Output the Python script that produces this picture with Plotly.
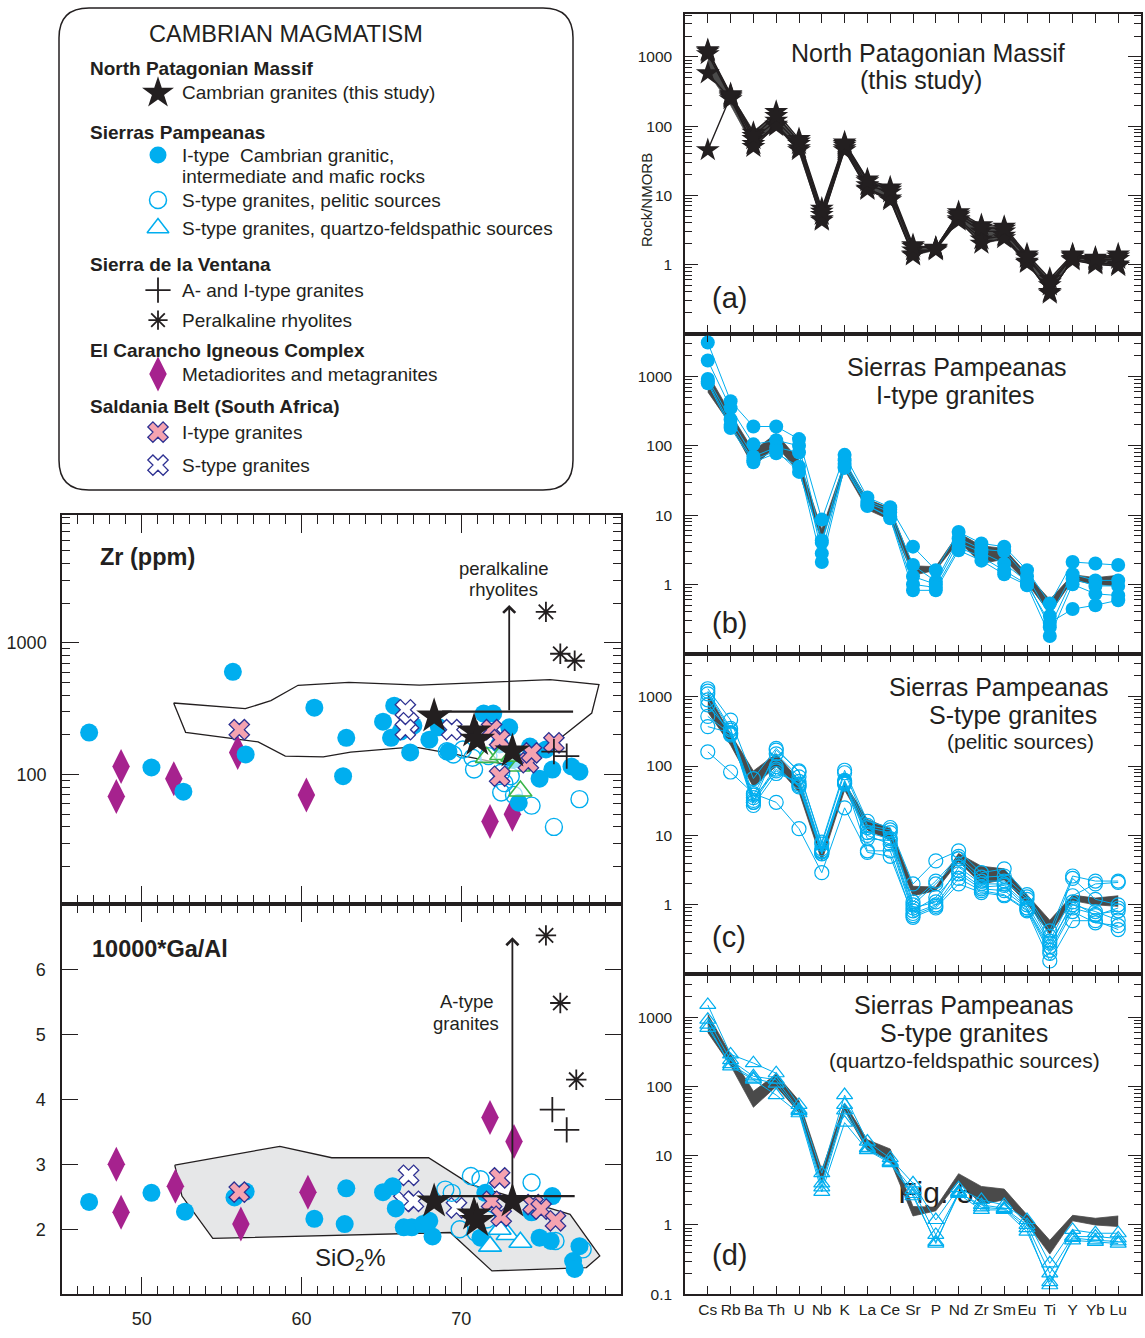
import numpy as np
import plotly.graph_objects as go

W, H = 1145, 1338
# the captured page comes out slightly squeezed vertically; layout pixel rows are stretched to match
VS = 1294.0 / 1286.0
FONT = "Liberation Sans, Arial, Helvetica, sans-serif"
INK = "#231F20"
CYAN = "#00AEEF"
MAGENTA = "#A6228E"
PINK = "#F5A3B0"
NAVY = "#2E3192"
GREEN = "#39B54A"
BAND = "#4A4A4A"
FIELD_FILL = "#E6E7E8"

# ---------------- spider diagram data (Rock / N-MORB) ----------------
ELEMENTS = ["Cs", "Rb", "Ba", "Th", "U", "Nb", "K", "La", "Ce", "Sr", "P",
            "Nd", "Zr", "Sm", "Eu", "Ti", "Y", "Yb", "Lu"]

NPM_S1 = [1250, 290, 80, 160, 65, 6.4, 58, 17, 13, 1.9, 1.7, 5.7, 3.7, 3.5, 1.4, 0.62, 1.4, 1.25, 1.4]
NPM_S2 = [1100, 260, 65, 120, 55, 5.2, 52, 14, 11, 1.6, 1.6, 5.0, 3.0, 3.0, 1.25, 0.5, 1.3, 1.15, 1.2]
NPM_S3 = [580, 245, 55, 105, 48, 4.5, 48, 12.5, 9, 1.4, 1.65, 4.5, 2.3, 2.6, 1.1, 0.38, 1.2, 1.05, 1.0]
NPM_S4 = [45, 270, 50, 100, 45, 4.3, 45, 12, 8.5, 1.35, 1.7, 4.3, 2.0, 2.4, 1.05, 0.4, 1.15, 1.0, 0.95]
NPM_S5 = [1200, 280, 72, 140, 60, 5.8, 55, 16, 12, 1.8, 1.75, 5.3, 3.4, 3.3, 1.3, 0.55, 1.35, 1.2, 1.3]
NPM_SPIDER = [NPM_S1, NPM_S2, NPM_S3, NPM_S4, NPM_S5]

NPM_BAND_LOW = [600, 200, 50, 100, 42, 4.3, 45, 12, 8.5, 1.35, 1.6, 4.2, 2.0, 2.3, 1.05, 0.38, 1.15, 1.0, 0.95]
NPM_BAND_HIGH = [1100, 290, 85, 150, 62, 6.2, 57, 17, 12.5, 1.85, 1.8, 5.5, 3.6, 3.3, 1.4, 0.6, 1.38, 1.25, 1.35]

SP_ITYPE_SPIDER = [
    [3100, 440, 190, 190, 125, 8.6, 74, 18, 13, 3.5, 1.6, 5.7, 3.9, 3.5, 1.6, 0.53, 2.1, 2.0, 1.9],
    [1700, 350, 105, 120, 100, 4.3, 62, 16, 12, 1.9, 1.1, 4.6, 3.2, 3.0, 1.3, 0.35, 1.4, 1.14, 1.14],
    [920, 240, 70, 95, 80, 2.8, 55, 15, 11, 1.3, 1.0, 4.0, 2.9, 2.0, 1.1, 0.24, 1.2, 0.95, 0.95],
    [800, 180, 58, 78, 50, 2.1, 50, 14, 9, 0.82, 0.82, 3.1, 2.2, 1.4, 0.97, 0.18, 1.0, 0.73, 0.69],
    [850, 200, 62, 85, 42, 4.0, 48, 13.5, 9.5, 1.0, 0.9, 3.4, 2.5, 1.6, 1.0, 0.28, 0.44, 0.5, 0.59],
]

SP_PELITIC_SPIDER = [
    [1300, 460, 66, 180, 82, 8.0, 87, 16, 13, 2.0, 4.3, 6.0, 2.9, 3.3, 1.4, 0.42, 2.6, 2.2, 2.2],
    [1100, 330, 38, 150, 70, 6.4, 62, 13, 11, 1.0, 2.0, 4.6, 2.2, 2.2, 1.2, 0.30, 1.35, 2.0, 2.1],
    [900, 280, 32, 98, 50, 5.4, 56, 9, 8.4, 0.82, 1.28, 3.1, 1.8, 1.9, 0.9, 0.22, 0.9, 0.73, 0.82],
    [760, 300, 27, 78, 60, 5.8, 60, 6.0, 6.0, 0.66, 0.9, 2.0, 1.5, 1.35, 0.82, 0.155, 0.59, 0.59, 0.44],
    [520, 290, 35, 85, 55, 6.0, 58, 11, 9, 0.9, 1.1, 3.5, 2.0, 2.0, 1.0, 0.28, 1.0, 0.8, 0.6],
    [370, 300, 30, 90, 52, 5.5, 55, 10, 7.5, 0.75, 1.0, 2.8, 1.7, 1.6, 0.9, 0.25, 1.1, 0.7, 0.9],
    [160, 82, 40, 30, 12.5, 2.9, 25, 5.7, 5.0, 0.7, 0.95, 2.4, 1.6, 1.4, 0.85, 0.2, 0.8, 0.55, 0.5],
    [1200, 350, 30, 170, 85, 7.5, 80, 14, 12, 1.1, 2.2, 5.0, 2.5, 2.6, 1.3, 0.35, 2.4, 1.2, 1.0],
]

SP_QF_SPIDER = [
    [1500, 290, 217, 155, 54, 5.6, 75, 16, 9.2, 4.0, 1.18, 3.4, 2.3, 1.95, 1.18, 0.28, 0.85, 0.76, 0.76],
    [920, 240, 140, 125, 46, 4.0, 54, 12.7, 8.2, 3.2, 0.72, 2.9, 1.95, 1.75, 1.0, 0.2, 0.68, 0.68, 0.64],
    [780, 195, 125, 75, 41, 3.0, 30, 12, 7.8, 2.6, 0.57, 2.8, 1.65, 1.65, 0.8, 0.15, 0.6, 0.57, 0.54],
    [700, 210, 130, 110, 44, 3.5, 45, 13, 8.0, 2.8, 0.54, 3.0, 1.8, 1.7, 0.9, 0.135, 0.65, 0.6, 0.58],
]

SPIDER_Y_TICKS = [0.1, 1, 10, 100, 1000]

# ---------------- Harker data: Zr (ppm) vs SiO2 ----------------
ITYPE_ZR_SIO2 = [46.7, 50.6, 52.6, 55.7, 56.5, 60.8, 62.8, 62.6, 65.1, 65.8, 65.6, 66.2, 66.8, 67.0, 68.0,
                 68.6, 69.2, 71.4, 72.0, 73.0, 72.4, 73.3, 74.3, 75.3, 75.7, 74.9, 76.9, 77.4, 73.6]
ITYPE_ZR = [208, 113, 74, 602, 142, 322, 190, 97, 252, 333, 190, 212, 147, 235, 184,
            228, 149, 290, 290, 228, 169, 130, 163, 155, 109, 93, 115, 105, 61]
PELITIC_ZR_SIO2 = [69.1, 69.5, 70.1, 70.7, 70.8, 72.5, 72.7, 72.5, 73.3, 74.4, 75.8, 77.4, 71.7, 73.1]
PELITIC_ZR = [150, 142, 155, 134, 109, 103, 86, 73, 70, 58, 40, 65, 138, 97]
QF_ZR_SIO2 = [71.6, 72.5, 73.6, 73.7, 73.2]
QF_ZR = [135, 142, 116, 75, 138]
NPM_ZR_SIO2 = [68.3, 70.8, 71.0, 73.2]
NPM_ZR = [277, 213, 184, 150]
VENT_AI_ZR_SIO2 = [75.8, 76.6]
VENT_AI_ZR = [149, 138]
VENT_RHY_ZR_SIO2 = [75.3, 76.2, 77.1]
VENT_RHY_ZR = [1718, 826, 731]
CARANCHO_ZR_SIO2 = [48.7, 48.4, 52.0, 56.0, 60.3, 71.8, 73.2]
CARANCHO_ZR = [115, 68, 93, 147, 70, 44, 50]
SALD_I_ZR_SIO2 = [56.1, 71.9, 72.4, 74.2, 74.4, 75.8, 72.4]
SALD_I_ZR = [219, 219, 184, 123, 146, 174, 97]
SALD_S_ZR_SIO2 = [66.5, 66.7, 66.5, 69.4]
SALD_S_ZR = [310, 247, 219, 219]

ZR_FIELD_SIO2 = [51.99, 56.48, 58.08, 59.78, 62.96, 67.38, 75.56, 78.62, 78.17, 76.35, 75.09,
                 73.29, 69.65, 67.04, 63.07, 61.36, 58.98, 57.28, 52.74, 51.99]
ZR_FIELD = [349, 316, 364, 476, 500, 478, 525, 481, 293, 195, 150,
            116, 142, 162, 148, 136, 138, 177, 209, 349]

ZR_REF_SIO2 = [68.8, 77.0]
ZR_REF_LEVEL = 300
ZR_ARROW_SIO2 = 73.0
ZR_ARROW_TOP = 1940

# ---------------- Harker data: 10000*Ga/Al vs SiO2 ----------------
ITYPE_GA_SIO2 = [46.7, 50.6, 52.7, 55.8, 56.5, 60.8, 62.8, 62.7, 65.1, 65.7, 65.9, 66.4, 66.9, 67.6,
                 68.2, 68.0, 71.2, 71.5, 74.4, 74.9, 75.6, 75.7, 77.4, 77.0, 77.1]
ITYPE_GA = [2.42, 2.56, 2.27, 2.49, 2.58, 2.16, 2.63, 2.08, 2.57, 2.66, 2.32, 2.03, 2.03, 2.08,
            1.89, 2.13, 1.87, 2.56, 2.26, 1.87, 1.82, 2.51, 1.74, 1.51, 1.39]
PELITIC_GA_SIO2 = [69.0, 69.4, 70.6, 71.2, 69.9, 70.9, 74.4, 75.9, 77.6, 71.6]
PELITIC_GA = [2.61, 2.56, 2.82, 2.77, 2.0, 1.95, 2.72, 1.82, 1.69, 2.15]
QF_GA_SIO2 = [71.8, 72.9, 73.7, 72.4]
QF_GA = [1.74, 1.92, 1.80, 2.0]
NPM_GA_SIO2 = [68.3, 70.8, 71.0, 73.2]
NPM_GA = [2.43, 2.23, 2.13, 2.43]
VENT_AI_GA_SIO2 = [75.7, 76.6]
VENT_AI_GA = [3.84, 3.53]
VENT_RHY_GA_SIO2 = [75.3, 76.2, 77.2]
VENT_RHY_GA = [6.52, 5.48, 4.30]
CARANCHO_GA_SIO2 = [48.4, 48.7, 52.1, 56.2, 60.4, 71.8, 73.3]
CARANCHO_GA = [3.0, 2.26, 2.66, 2.08, 2.57, 3.72, 3.35]
SALD_I_GA_SIO2 = [56.1, 72.4, 71.9, 74.5, 75.0, 75.9, 72.5]
SALD_I_GA = [2.57, 2.79, 2.43, 2.38, 2.31, 2.13, 2.20]
SALD_S_GA_SIO2 = [66.7, 66.4, 67.0, 69.7]
SALD_S_GA = [2.83, 2.43, 2.43, 2.33]

GA_FIELD_SIO2 = [52.06, 58.64, 61.89, 67.95, 70.57, 76.81, 78.67, 77.83, 71.92, 69.31, 54.44, 52.51, 52.06]
GA_FIELD = [2.985, 3.276, 3.10, 3.10, 2.69, 2.23, 1.59, 1.41, 1.36, 1.95, 1.86, 2.51, 2.985]

GA_REF_SIO2 = [68.8, 77.1]
GA_REF_LEVEL = 2.51
GA_ARROW_SIO2 = 73.2
GA_ARROW_TOP = 6.49

SIO2_TICKS = [45, 50, 55, 60, 65, 70, 75, 80]
SIO2_LABELS = ["", "50", "", "60", "", "70", "", ""]
GA_TICKS = [1, 2, 3, 4, 5, 6, 7]
GA_LABELS = ["", "2", "3", "4", "5", "6", ""]


def Y(y):
    """page row (px from top) -> layout row"""
    return y * VS


def ydom(top, bot):
    return [1 - Y(bot) / H, 1 - Y(top) / H]


# ---------------- figure ----------------
fig = go.Figure()


def sc(x, y, xa, ya, **kw):
    kw.setdefault("mode", "markers")
    fig.add_trace(go.Scatter(x=x, y=y, xaxis=xa, yaxis=ya, hoverinfo="skip",
                             showlegend=False, cliponaxis=False, **kw))


def log_minor(lo, hi):
    return [k * 10.0 ** e for e in range(lo, hi + 1) for k in range(2, 10)]


XMK_I = dict(symbol="x", size=18, color=PINK, line=dict(color=NAVY, width=1.3))
XMK_S = dict(symbol="x", size=18, color="white", line=dict(color=NAVY, width=1.3))

# ----- Zr panel (x / y) -----
sc(ZR_FIELD_SIO2, ZR_FIELD, "x", "y", mode="lines", line=dict(color=INK, width=1.3))
sc(CARANCHO_ZR_SIO2, CARANCHO_ZR, "x", "y",
   marker=dict(symbol="diamond-tall", size=25, color=MAGENTA, line=dict(width=0)))
sc(ITYPE_ZR_SIO2, ITYPE_ZR, "x", "y", marker=dict(symbol="circle", size=18, color=CYAN, line=dict(width=0)))
sc(PELITIC_ZR_SIO2, PELITIC_ZR, "x", "y",
   marker=dict(symbol="circle", size=17, color="rgba(255,255,255,0)", line=dict(color=CYAN, width=1.4)))
sc(QF_ZR_SIO2, QF_ZR, "x", "y",
   marker=dict(symbol="triangle-up", size=20, color="rgba(255,255,255,0.6)", line=dict(color=GREEN, width=1.6)))
sc(SALD_S_ZR_SIO2, SALD_S_ZR, "x", "y", marker=XMK_S)
sc(SALD_I_ZR_SIO2, SALD_I_ZR, "x", "y", marker=XMK_I)
sc(ZR_REF_SIO2, [ZR_REF_LEVEL] * len(ZR_REF_SIO2), "x", "y", mode="lines", line=dict(color=INK, width=2.2))
sc(NPM_ZR_SIO2, NPM_ZR, "x", "y", marker=dict(symbol="star", size=27, color=INK, line=dict(width=0)))
sc(VENT_AI_ZR_SIO2, VENT_AI_ZR, "x", "y",
   marker=dict(symbol="cross-thin-open", size=18, color=INK, line=dict(color=INK, width=1.8)))
sc(VENT_RHY_ZR_SIO2, VENT_RHY_ZR, "x", "y",
   marker=dict(symbol="asterisk-open", size=17, color=INK, line=dict(color=INK, width=1.8)))

# ----- Ga/Al panel (x2 / y2) -----
sc(GA_FIELD_SIO2, GA_FIELD, "x2", "y2", mode="lines", fill="toself", fillcolor=FIELD_FILL,
   line=dict(color=INK, width=1.3))
sc(CARANCHO_GA_SIO2, CARANCHO_GA, "x2", "y2",
   marker=dict(symbol="diamond-tall", size=25, color=MAGENTA, line=dict(width=0)))
sc(SALD_S_GA_SIO2, SALD_S_GA, "x2", "y2", marker=XMK_S)
sc(ITYPE_GA_SIO2, ITYPE_GA, "x2", "y2", marker=dict(symbol="circle", size=18, color=CYAN, line=dict(width=0)))
sc(PELITIC_GA_SIO2, PELITIC_GA, "x2", "y2",
   marker=dict(symbol="circle", size=17, color="rgba(255,255,255,0)", line=dict(color=CYAN, width=1.4)))
sc(QF_GA_SIO2, QF_GA, "x2", "y2",
   marker=dict(symbol="triangle-up", size=20, color="white", line=dict(color=CYAN, width=1.6)))
sc(SALD_I_GA_SIO2, SALD_I_GA, "x2", "y2", marker=XMK_I)
sc(GA_REF_SIO2, [GA_REF_LEVEL] * len(GA_REF_SIO2), "x2", "y2", mode="lines", line=dict(color=INK, width=2.2))
sc(NPM_GA_SIO2, NPM_GA, "x2", "y2", marker=dict(symbol="star", size=27, color=INK, line=dict(width=0)))
sc(VENT_AI_GA_SIO2, VENT_AI_GA, "x2", "y2",
   marker=dict(symbol="cross-thin-open", size=18, color=INK, line=dict(color=INK, width=1.8)))
sc(VENT_RHY_GA_SIO2, VENT_RHY_GA, "x2", "y2",
   marker=dict(symbol="asterisk-open", size=17, color=INK, line=dict(color=INK, width=1.8)))

# ----- spider panels -----
SPIDER_SETS = [
    ("x3", "y3", NPM_SPIDER, dict(symbol="star", size=18, color=INK, line=dict(width=0)), INK, 1.4),
    ("x4", "y4", SP_ITYPE_SPIDER, dict(symbol="circle", size=14, color=CYAN, line=dict(width=0)), CYAN, 1.0),
    ("x5", "y5", SP_PELITIC_SPIDER,
     dict(symbol="circle-open", size=14, color=CYAN, line=dict(color=CYAN, width=1.2)), CYAN, 1.0),
    ("x6", "y6", SP_QF_SPIDER,
     dict(symbol="triangle-up-open", size=14, color=CYAN, line=dict(color=CYAN, width=1.2)), CYAN, 1.0),
]

for xa, ya, samples, mk, lc, lw in SPIDER_SETS:
    if xa == "x6":
        fig.add_trace(go.Scatter(x=["P"], y=[2.65], xaxis=xa, yaxis=ya, mode="text", text=["Fig. 5"],
                                 textposition="middle center", hoverinfo="skip", showlegend=False,
                                 textfont=dict(family=FONT, size=30, color=INK)))
    sc(ELEMENTS, NPM_BAND_LOW, xa, ya, mode="lines", line=dict(color=BAND, width=0.8))
    sc(ELEMENTS, NPM_BAND_HIGH, xa, ya, mode="lines", fill="tonexty", fillcolor=BAND,
       line=dict(color=BAND, width=0.8))
    for s in samples:
        sc(ELEMENTS, s, xa, ya, mode="lines+markers", line=dict(color=lc, width=lw), marker=mk)

# ----- legend key symbols (overlay axes in page pixels) -----
LEGEND_KEYS = [
    (93, dict(symbol="star", size=24, color=INK, line=dict(width=0))),
    (155, dict(symbol="circle", size=17, color=CYAN, line=dict(width=0))),
    (200, dict(symbol="circle-open", size=17, color=CYAN, line=dict(color=CYAN, width=1.5))),
    (228, dict(symbol="triangle-up-open", size=19, color=CYAN, line=dict(color=CYAN, width=1.5))),
    (290, dict(symbol="cross-thin-open", size=18, color=INK, line=dict(color=INK, width=1.8))),
    (320, dict(symbol="asterisk-open", size=16, color=INK, line=dict(color=INK, width=1.8))),
    (374, dict(symbol="diamond-tall", size=25, color=MAGENTA, line=dict(width=0))),
    (432, XMK_I),
    (465, XMK_S),
]
for yk, mk in LEGEND_KEYS:
    sc([158], [Y(yk)], "x7", "y7", marker=mk)

# ---------------- axes ----------------
axis_common = dict(showline=True, linecolor=INK, linewidth=1.5, mirror="allticks", ticks="inside",
                   tickcolor=INK, tickwidth=1.3, showgrid=False, zeroline=False,
                   tickfont=dict(family=FONT, color=INK))

left_dom = [62 / W, 621 / W]
zr_minor = [v for v in log_minor(1, 3) if v < 10 ** 3.97]
sp_minor = [v for v in log_minor(-1, 3) if v < 10 ** 3.62]
sio2_minor = list(range(45, 81))

layout = dict(
    width=W, height=H, margin=dict(l=0, r=0, t=0, b=0),
    paper_bgcolor="white", plot_bgcolor="rgba(0,0,0,0)", showlegend=False,
    font=dict(family=FONT, color=INK),
)

layout["xaxis"] = dict(axis_common, domain=left_dom, anchor="y", range=[45, 80], tickmode="array",
                       tickvals=SIO2_TICKS, ticktext=SIO2_LABELS, showticklabels=False, ticklen=18,
                       minor=dict(tickmode="array", tickvals=sio2_minor, ticks="inside", ticklen=9,
                                  tickcolor=INK, tickwidth=1.1))
layout["yaxis"] = dict(axis_common, domain=ydom(515, 904), anchor="x", type="log",
                       range=[1.015, 3.97], tickmode="array", tickvals=[100, 1000], ticktext=["100", "1000"],
                       ticklen=17, tickfont=dict(family=FONT, color=INK, size=18), ticklabelstandoff=10,
                       minor=dict(tickmode="array", tickvals=zr_minor, ticks="inside", ticklen=8,
                                  tickcolor=INK, tickwidth=1.1))
layout["xaxis2"] = dict(axis_common, domain=left_dom, anchor="y2", range=[45, 80], tickmode="array",
                        tickvals=SIO2_TICKS, ticktext=SIO2_LABELS, ticklen=18,
                        tickfont=dict(family=FONT, color=INK, size=18), ticklabelstandoff=7,
                        minor=dict(tickmode="array", tickvals=sio2_minor, ticks="inside", ticklen=9,
                                   tickcolor=INK, tickwidth=1.1))
layout["yaxis2"] = dict(axis_common, domain=ydom(904, 1294), anchor="x2", range=[1, 7],
                        tickmode="array", tickvals=GA_TICKS, ticktext=GA_LABELS, ticklen=16,
                        tickfont=dict(family=FONT, color=INK, size=18), ticklabelstandoff=11)

spider_rows = [(3, 14, 333.5), (4, 333.5, 653.5), (5, 653.5, 974), (6, 974, 1294)]
for n, top, bot in spider_rows:
    last = n == 6
    layout[f"xaxis{n}"] = dict(axis_common, domain=[685 / W, 1141 / W], anchor=f"y{n}", type="category",
                               categoryorder="array", categoryarray=ELEMENTS, range=[-1, 19], ticklen=9,
                               showticklabels=last, tickangle=0,
                               tickfont=dict(family=FONT, color=INK, size=15.5), ticklabelstandoff=0)
    layout[f"yaxis{n}"] = dict(axis_common, domain=ydom(top, bot), anchor=f"x{n}", type="log",
                               range=[-1, 3.62], tickmode="array", tickvals=SPIDER_Y_TICKS,
                               ticktext=[("0.1" if last else ""), "1", "10", "100", "1000"], ticklen=13,
                               tickfont=dict(family=FONT, color=INK, size=15.5), ticklabelstandoff=8,
                               minor=dict(tickmode="array", tickvals=sp_minor, ticks="inside", ticklen=7,
                                          tickcolor=INK, tickwidth=1.1))

layout["xaxis7"] = dict(domain=[0, 1], anchor="y7", range=[0, W], visible=False, fixedrange=True)
layout["yaxis7"] = dict(domain=[0, 1], anchor="x7", range=[H, 0], visible=False, fixedrange=True)

fig.update_layout(**layout)

# ---------------- legend box ----------------
x0, y0, x1, y1, r = 59, Y(8), 573, Y(490), 30
path = (f"M {x0 + r},{y0} L {x1 - r},{y0} Q {x1},{y0} {x1},{y0 + r} L {x1},{y1 - r} "
        f"Q {x1},{y1} {x1 - r},{y1} L {x0 + r},{y1} Q {x0},{y1} {x0},{y1 - r} L {x0},{y0 + r} "
        f"Q {x0},{y0} {x0 + r},{y0} Z")
fig.add_shape(type="path", path=path, xref="x7", yref="y7", line=dict(color=INK, width=1.5),
              fillcolor="rgba(0,0,0,0)", layer="below")


def txt(x, y, s, size, anchor="left", bold=False, **kw):
    if bold:
        s = f"<b>{s}</b>"
    fig.add_annotation(x=x, y=Y(y), xref="x7", yref="y7", text=s, showarrow=False, xanchor=anchor,
                       yanchor="middle", font=dict(family=FONT, size=size, color=INK), **kw)


txt(286, 34, "CAMBRIAN MAGMATISM", 23.5, "center")
LEGEND_HEADERS = [(68, "North Patagonian Massif"), (132, "Sierras Pampeanas"), (264, "Sierra de la Ventana"),
                  (350, "El Carancho Igneous Complex"), (406, "Saldania Belt (South Africa)")]
for yh, s in LEGEND_HEADERS:
    txt(88, yh, s, 19, bold=True)
LEGEND_ITEMS = [(92, "Cambrian granites (this study)"), (155, "I-type\u00a0\u00a0Cambrian granitic,"),
                (176, "intermediate and mafic rocks"), (200, "S-type granites, pelitic sources"),
                (228, "S-type granites, quartzo-feldspathic sources"), (290, "A- and I-type granites"),
                (320, "Peralkaline rhyolites"), (374, "Metadiorites and metagranites"),
                (432, "I-type granites"), (465, "S-type granites")]
for yi, s in LEGEND_ITEMS:
    txt(180, yi, s, 19)

# ---------------- left panel texts & arrows ----------------
txt(98, 557, "Zr (ppm)", 23.5, bold=True)
txt(90, 949, "10000*Ga/Al", 23.5, bold=True)
txt(503, 568, "peralkaline", 18.5, "center")
txt(503, 589, "rhyolites", 18.5, "center")
txt(466, 1001, "A-type", 18.5, "center")
txt(466, 1023, "granites", 18.5, "center")
txt(350, 1259, "SiO<sub>2</sub>%", 24, "center")

fig.add_annotation(x=ZR_ARROW_SIO2, y=np.log10(ZR_ARROW_TOP), ax=ZR_ARROW_SIO2, ay=np.log10(ZR_REF_LEVEL),
                   xref="x", yref="y", axref="x", ayref="y", text="", showarrow=True, arrowhead=4,
                   arrowsize=1.3, arrowwidth=1.8, arrowcolor=INK)
fig.add_annotation(x=GA_ARROW_SIO2, y=GA_ARROW_TOP, ax=GA_ARROW_SIO2, ay=GA_REF_LEVEL,
                   xref="x2", yref="y2", axref="x2", ayref="y2", text="", showarrow=True, arrowhead=4,
                   arrowsize=1.3, arrowwidth=1.8, arrowcolor=INK)

# ---------------- spider panel texts ----------------
txt(928, 53, "North Patagonian Massif", 25, "center")
txt(921, 80, "(this study)", 25, "center")
txt(957, 367, "Sierras Pampeanas", 25, "center")
txt(955, 395, "I-type granites", 25, "center")
txt(999, 687, "Sierras Pampeanas", 25, "center")
txt(1013, 715, "S-type granites", 25, "center")
txt(1020, 741, "(pelitic sources)", 21, "center")
txt(964, 1005, "Sierras Pampeanas", 25, "center")
txt(964, 1033, "S-type granites", 25, "center")
txt(964, 1060, "(quartzo-feldspathic sources)", 21, "center")
for yl, s in [(298, "(a)"), (623, "(b)"), (937, "(c)"), (1255, "(d)")]:
    txt(729, yl, s, 29, "center")
txt(646, 200, "Rock/NMORB", 15, "center", textangle=-90)

fig.write_html("out.html",
               post_script="document.body.style.margin='0';document.body.style.overflow='hidden';")
